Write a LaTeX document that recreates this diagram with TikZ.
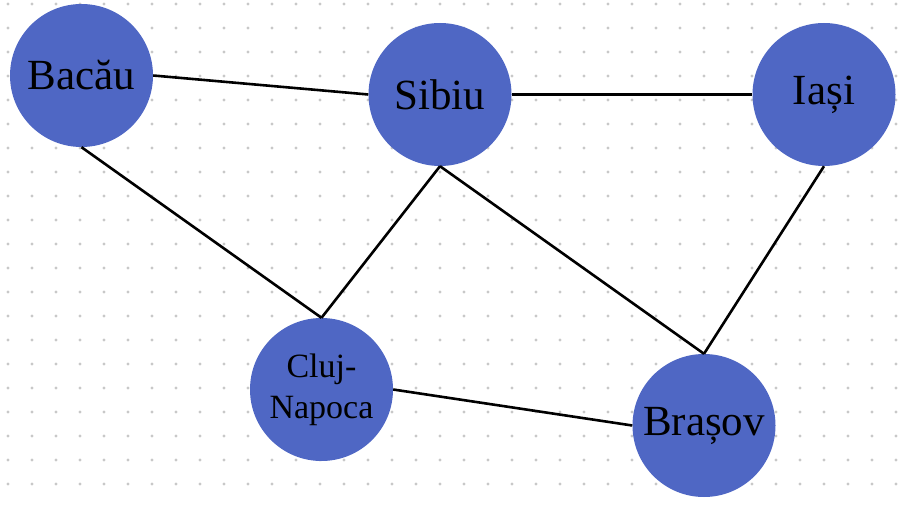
\documentclass[tikz,border=0pt]{standalone}
\definecolor{CityBlue}{RGB}{79,103,196}
\definecolor{DotGray}{RGB}{200,200,200}
\usepackage{fontspec}
\setmainfont{Liberation Serif}
\usepackage{tikz}
\usetikzlibrary{positioning}

\begin{document}
\begin{tikzpicture}[x=1pt, y=-1pt,
        city/.style={circle, fill=CityBlue, minimum size=143pt, inner sep=0pt,
                     align=center, font=\fontsize{43}{47}\selectfont},
        small/.style={font=\fontsize{34}{41}\selectfont},
        road/.style={black, line width=2.6pt}
      ]
        \useasboundingbox (0,0) rectangle (910,505);

        % dotted background
        \foreach \gx in {8,32,...,896}
          \foreach \gy in {4,28,...,484}
            \fill[DotGray] (\gx,\gy) circle (1.6pt);

        \node[city] (bacau)  at (81.5,75.5)  {Bacău};
        \node[city] (sibiu)  at (440,94.5)   {Sibiu};
        \node[city] (iasi)   at (824,94.5)   {Iași};
        \node[city, small] (cluj) at (321.5,389.5) {Cluj-\\Napoca};
        \node[city] (brasov) at (704,425.5)  {Brașov};

        \draw[road] (bacau.east) -- (sibiu.west);
        \draw[road] (sibiu.east) -- (iasi.west);
        \draw[road] (bacau.south) -- (cluj.north);
        \draw[road] (sibiu.south) -- (cluj.north);
        \draw[road] (sibiu.south) -- (brasov.north);
        \draw[road] (iasi.south) -- (brasov.north);
        \draw[road] (cluj.east) -- (brasov.west);
      \end{tikzpicture}
\end{document}
